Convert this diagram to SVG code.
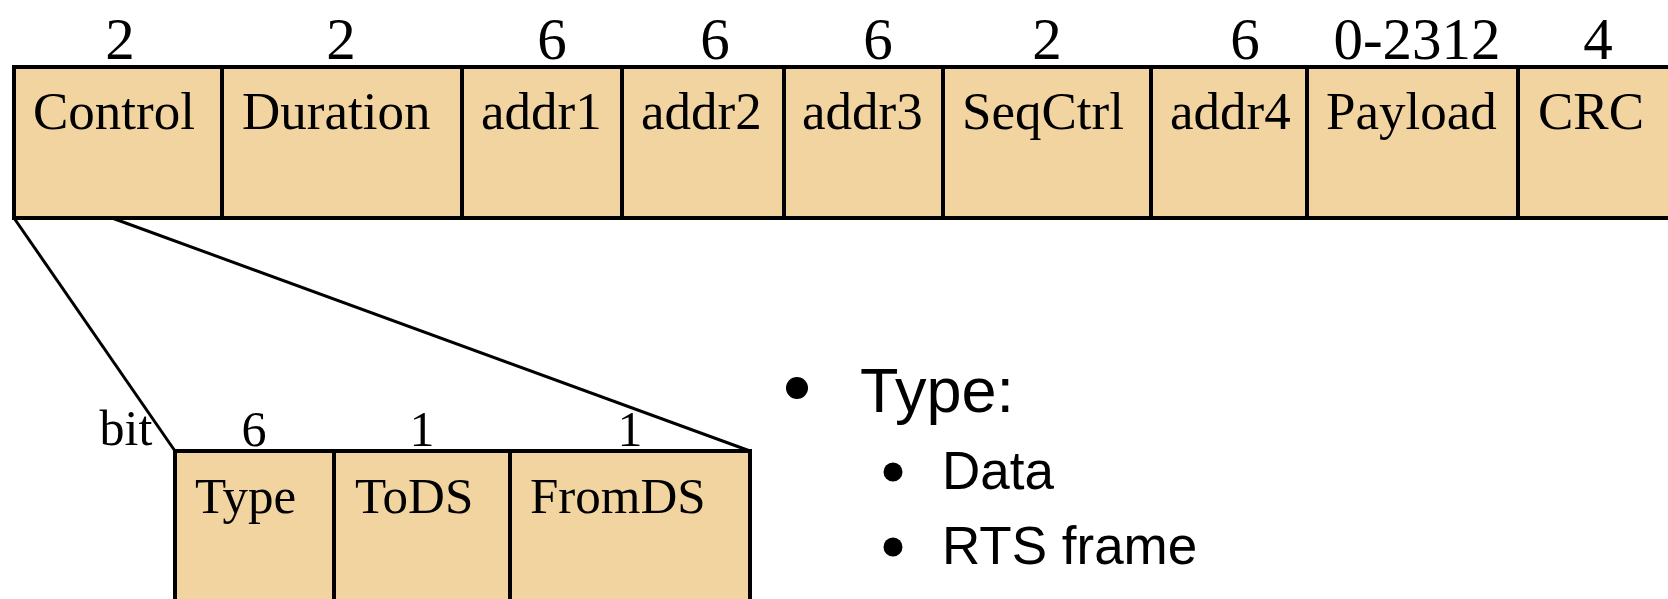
<svg xmlns="http://www.w3.org/2000/svg" width="1668" height="599" viewBox="0 0 1668 599">
<style>
.box{fill:#F2D4A1;stroke:#000;stroke-width:4}
.lbl{font-family:"Liberation Serif","Times New Roman",serif;font-size:53px;fill:#000}
.num{font-family:"Liberation Serif","Times New Roman",serif;font-size:59px;fill:#000;text-anchor:middle}
.snum{font-family:"Liberation Serif","Times New Roman",serif;font-size:50px;fill:#000;text-anchor:middle}
.slbl{font-family:"Liberation Serif","Times New Roman",serif;font-size:51px;fill:#000}
.conn{stroke:#000;stroke-width:3;fill:none}
.b1{font-family:"Liberation Sans",Arial,sans-serif;font-size:63px;fill:#000}
.b2{font-family:"Liberation Sans",Arial,sans-serif;font-size:53px;fill:#000}
</style>
<rect width="1668" height="599" fill="#fff"/>
<g id="frame">
<g id="f-control"><rect class="box" x="14" y="67" width="208" height="151"/><text class="num" x="120" y="59">2</text><text class="lbl" x="33" y="129">Control</text></g>
<g id="f-duration"><rect class="box" x="222" y="67" width="240" height="151"/><text class="num" x="341" y="59">2</text><text class="lbl" x="242" y="129">Duration</text></g>
<g id="f-addr1"><rect class="box" x="462" y="67" width="160" height="151"/><text class="num" x="552" y="59">6</text><text class="lbl" x="481" y="129">addr1</text></g>
<g id="f-addr2"><rect class="box" x="622" y="67" width="162" height="151"/><text class="num" x="715" y="59">6</text><text class="lbl" x="641" y="129">addr2</text></g>
<g id="f-addr3"><rect class="box" x="784" y="67" width="159" height="151"/><text class="num" x="878" y="59">6</text><text class="lbl" x="802" y="129">addr3</text></g>
<g id="f-seqctrl"><rect class="box" x="943" y="67" width="208" height="151"/><text class="num" x="1047" y="59">2</text><text class="lbl" x="962" y="129">SeqCtrl</text></g>
<g id="f-addr4"><rect class="box" x="1151" y="67" width="156" height="151"/><text class="num" x="1245" y="59">6</text><text class="lbl" x="1170" y="129">addr4</text></g>
<g id="f-payload"><rect class="box" x="1307" y="67" width="211" height="151"/><text class="num" x="1417" y="59">0-2312</text><text class="lbl" x="1326" y="129">Payload</text></g>
<g id="f-crc"><rect class="box" x="1518" y="67" width="170" height="151"/><text class="num" x="1598" y="59">4</text><text class="lbl" x="1538" y="129">CRC</text></g>
</g>
<g id="connectors">
<line class="conn" x1="14" y1="218" x2="175" y2="451"/>
<line class="conn" x1="112" y1="218" x2="750" y2="451"/>
</g>
<g id="control-fields">
<text class="snum" x="126" y="445">bit</text>
<g id="c-type"><rect class="box" x="175" y="451" width="159" height="170"/><text class="snum" x="254" y="446">6</text><text class="slbl" x="195" y="513">Type</text></g>
<g id="c-tods"><rect class="box" x="334" y="451" width="176" height="170"/><text class="snum" x="422" y="446">1</text><text class="slbl" x="355" y="513">ToDS</text></g>
<g id="c-fromds"><rect class="box" x="510" y="451" width="240" height="170"/><text class="snum" x="630" y="446">1</text><text class="slbl" x="530" y="513">FromDS</text></g>
</g>
<g id="bullets">
<circle cx="797" cy="388" r="11"/>
<text class="b1" x="860" y="412">Type:</text>
<circle cx="893" cy="472" r="9.5"/>
<text class="b2" x="942" y="489">Data</text>
<circle cx="893" cy="547" r="9.5"/>
<text class="b2" x="942" y="564">RTS frame</text>
</g>
</svg>
